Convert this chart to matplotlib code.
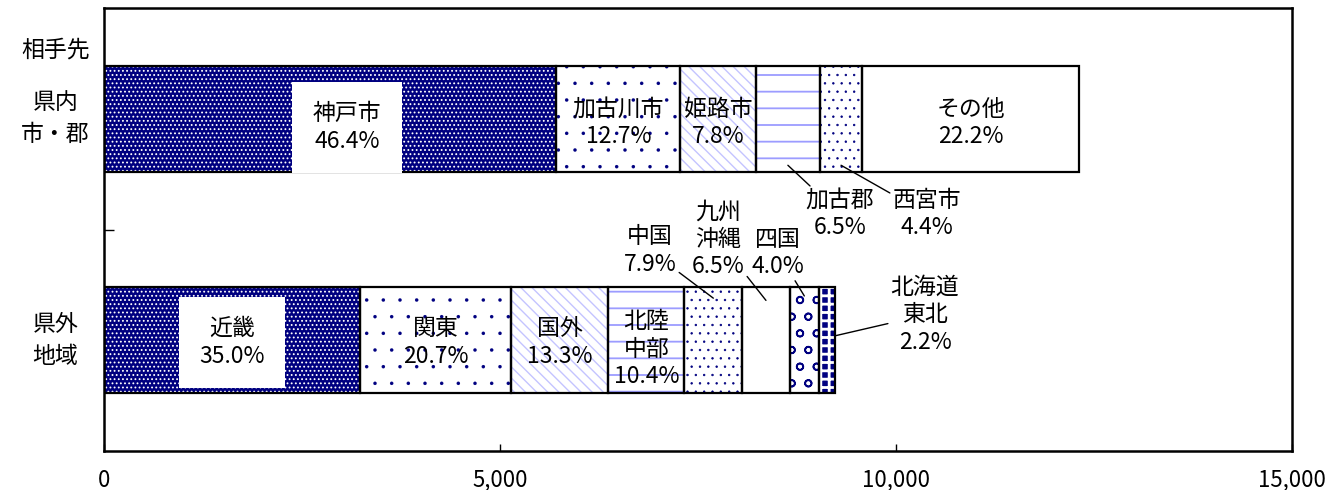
import matplotlib
matplotlib.use("Agg")
import matplotlib.pyplot as plt
import numpy as np

plt.rcParams['font.family'] = ['Noto Sans CJK JP', 'DejaVu Sans']

# data (counts, percentages as printed)
rows = ['県内\n市・郡', '県外\n地域']
kennai_names = ['神戸市', '加古川市', '姫路市', '加古郡', '西宮市', 'その他']
kennai_pct = [46.4, 12.7, 7.8, 6.5, 4.4, 22.2]
kennai_vals = [5712, 1563, 960, 800, 542, 2733]
kengai_names = ['近畿', '関東', '国外', '北陸\n中部', '中国', '九州\n沖縄', '四国', '北海道\n東北']
kengai_pct = [35.0, 20.7, 13.3, 10.4, 7.9, 6.5, 4.0, 2.2]
kengai_vals = [3230, 1911, 1228, 960, 729, 600, 369, 203]
xticks = [0, 5000, 10000, 15000]

# series styles: face, hatch, hatch colour, hatch linewidth
navy = '#000080'
styles = [
    (navy, '....', 'white', 0.8),
    ('white', '.', navy, 0.1),
    ('white', '\\\\\\', '#c4c4ff', 1.0),
    ('white', '-', '#9c9cff', 1.3),
    ('white', '..', navy, 0.5),
    ('white', '', 'white', 1.0),
    ('white', 'o', navy, 1.2),
    (navy, '++', 'white', 2.0),
]

fig = plt.figure(figsize=(13.35, 4.9), dpi=100)
ax = fig.add_axes([104 / 1335, 1 - 451 / 490, 1188 / 1335, 443 / 490])

bar_h = 0.48
bars = [kennai_vals, kengai_vals]
lefts_all = []
for row, vals in enumerate(bars):
    lefts = np.concatenate([[0], np.cumsum(vals)[:-1]])
    lefts_all.append(lefts)
    for i, (v, l) in enumerate(zip(vals, lefts)):
        face, hatch, hc, hlw = styles[i]
        with plt.rc_context({'hatch.linewidth': hlw}):
            bc = ax.barh(row, v, left=l, height=bar_h, color=face, edgecolor=hc,
                         hatch=hatch, linewidth=0, zorder=2)
        for p in bc:
            if hasattr(p, 'set_hatch_linewidth'):
                p.set_hatch_linewidth(hlw)
        ax.barh(row, v, left=l, height=bar_h, fill=False, edgecolor='black',
                linewidth=1.6, zorder=3)

fs = 16.5

def pct(p):
    return '%.1f%%' % p

# labels inside the bars
def inside(row, i, name, p, dx=0, dy=0.02, box=False):
    x = lefts_all[row][i] + bars[row][i] / 2 + dx
    kw = {}
    if box:
        kw['bbox'] = dict(boxstyle='square,pad=0.9', fc='white', ec='none')
    ax.text(x, row + dy, name + '\n' + pct(p), ha='center', va='center',
            fontsize=fs, linespacing=1.25, zorder=5, **kw)

inside(0, 0, kennai_names[0], kennai_pct[0], dx=215, dy=0.04, box=True)
for i in [1, 2, 5]:
    inside(0, i, kennai_names[i], kennai_pct[i])
inside(1, 0, kengai_names[0], kengai_pct[0], dy=0.01, box=True)
for i in [1, 2]:
    inside(1, i, kengai_names[i], kengai_pct[i], dy=0.01)
inside(1, 3, kengai_names[3], kengai_pct[3], dy=0.04)

# callout labels with leader lines: (row, index, text x, text y, anchor y)
callouts = [
    (0, 3, 9293, 0.43, 0.21),
    (0, 4, 10391, 0.43, 0.21),
    (1, 4, 6894, 0.595, 0.81),
    (1, 5, 7752, 0.545, 0.82),
    (1, 6, 8510, 0.605, 0.80),
]
for row, i, tx, ty, ay in callouts:
    names = kennai_names if row == 0 else kengai_names
    pcts = kennai_pct if row == 0 else kengai_pct
    ax_x = lefts_all[row][i] + bars[row][i] / 2
    ax.annotate(names[i] + '\n' + pct(pcts[i]), xy=(ax_x, ay), xytext=(tx, ty),
                ha='center', va='center', fontsize=fs, linespacing=1.25,
                arrowprops=dict(arrowstyle='-', color='black', lw=1.0,
                                shrinkA=0, shrinkB=0), zorder=6)

# 北海道・東北 points to the right end of the bar
ax.annotate(kengai_names[7] + '\n' + pct(kengai_pct[7]),
            xy=(lefts_all[1][7] + bars[1][7], 0.98), xytext=(10366, 0.886),
            ha='center', va='center', fontsize=fs, linespacing=1.25,
            arrowprops=dict(arrowstyle='-', color='black', lw=1.0,
                            shrinkA=0, shrinkB=0), zorder=6)

# axes
ax.set_xlim(0, 15000)
ax.set_ylim(1.5, -0.5)
ax.set_xticks(xticks)
ax.set_xticklabels(['{:,}'.format(t) for t in xticks], fontsize=16)
ax.tick_params(axis='x', direction='in', length=5, width=1, pad=13)
ax.set_yticks([0.5])
ax.set_yticklabels([''])
ax.tick_params(axis='y', direction='in', length=7, width=1)
for s in ax.spines.values():
    s.set_linewidth(1.8)
    s.set_color('black')

tr = ax.get_yaxis_transform()
ax.text(-0.041, -0.31, '相手先', transform=tr, ha='center', va='center', fontsize=fs)
for r, lab in enumerate(rows):
    ax.text(-0.041, r, lab, transform=tr, ha='center', va='center',
            fontsize=fs, linespacing=1.5)

plt.savefig('out.png', dpi=100)
